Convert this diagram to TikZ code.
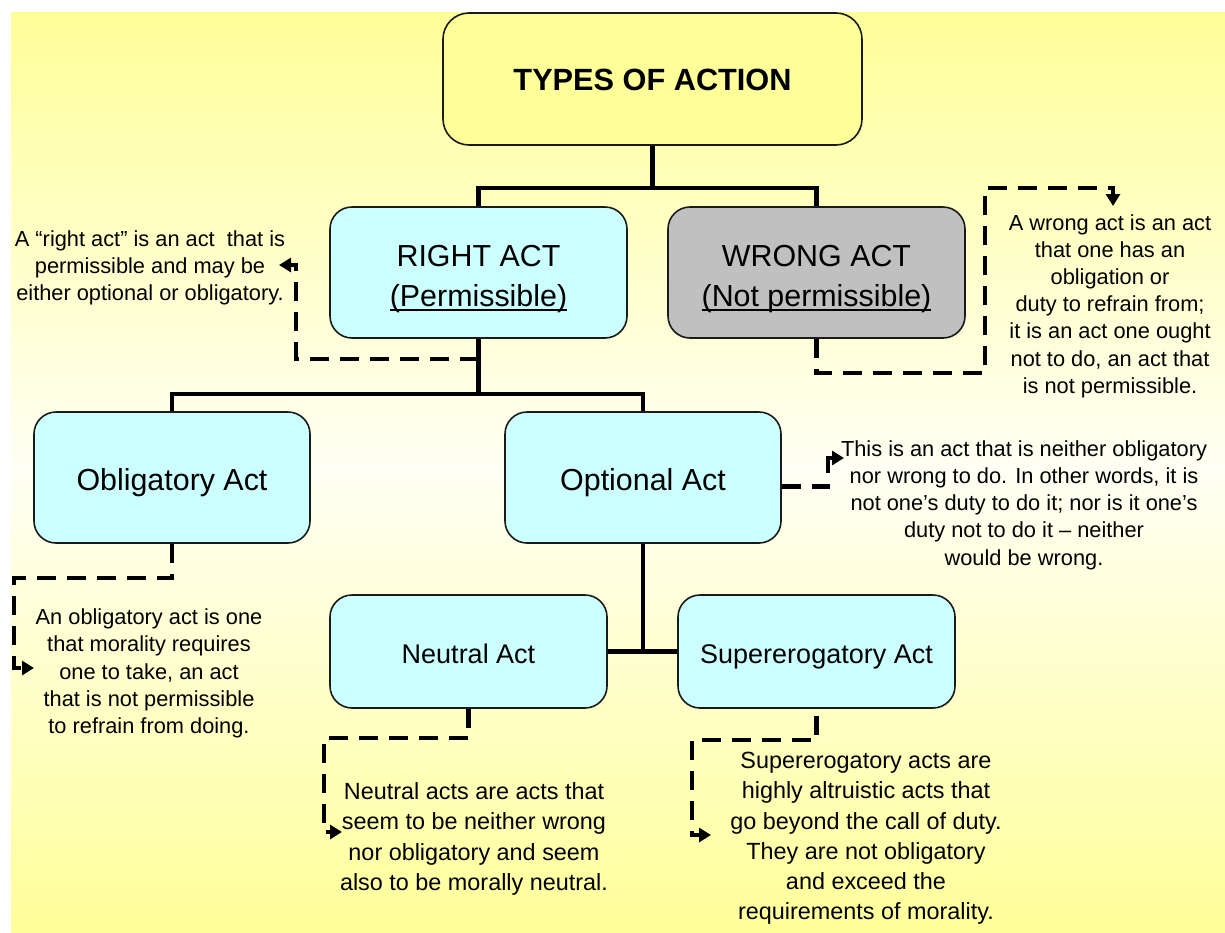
\documentclass[tikz,border=0pt]{standalone}
\usepackage{fontspec}
\setmainfont{Liberation Sans}
\usetikzlibrary{arrows.meta,calc}

\definecolor{bgyellow}{HTML}{FFFF99}
\definecolor{bgpale}{HTML}{FFFFF4}
\definecolor{boxcyan}{HTML}{CCFFFF}
\definecolor{boxgray}{HTML}{C0C0C0}
\definecolor{boxedge}{HTML}{1A1A1A}

% underline drawn as a rule, scaled for large text
\newcommand\ulbox[1]{\setbox0\hbox{#1}\rlap{\rule[-4.5pt]{\wd0}{2.2pt}}\box0}

\tikzset{
  actbox/.style={draw=boxedge, line width=1.6pt, rounded corners=22pt,
    fill=boxcyan, inner sep=0pt},
  boxlabel/.style={align=center, inner sep=0pt},
  bigfont/.style={font=\fontsize{30.4}{40}\selectfont},
  midfont/.style={font=\fontsize{27}{32}\selectfont},
  notetext/.style={align=center, inner sep=0pt, font=\fontsize{21.8}{27.2}\selectfont},
  notetextb/.style={align=center, inner sep=0pt, font=\fontsize{23.4}{30.2}\selectfont},
  tree/.style={line width=4.6pt},
  dashlink/.style={line width=4.6pt, dash pattern=on 19pt off 11pt,
    -{Triangle[length=12pt,width=14pt]}},
}

\begin{document}
\begin{tikzpicture}[x=1pt,y=-1pt]
\useasboundingbox (0,0) rectangle (1225,932);

% background: yellow fading to pale and back
\shade[top color=bgyellow, bottom color=bgpale] (11,12) rectangle (1225,470);
\shade[top color=bgpale, bottom color=bgyellow] (11,470) rectangle (1225,932);

% boxes
\node[actbox, fill=bgyellow, rounded corners=26pt, minimum width=419pt, minimum height=132pt] (title) at (652.5,79) {};
\node[actbox, minimum width=297pt, minimum height=131pt] (right) at (478.5,272.5) {};
\node[actbox, fill=boxgray, minimum width=297pt, minimum height=131pt] (wrong) at (816.5,272.5) {};
\node[actbox, minimum width=276pt, minimum height=131pt] (oblig) at (172,477.5) {};
\node[actbox, minimum width=276pt, minimum height=131pt] (optional) at (643,477.5) {};
\node[actbox, minimum width=277pt, minimum height=113pt] (neutral) at (468.5,651.5) {};
\node[actbox, minimum width=277pt, minimum height=113pt] (super) at (816.5,651.5) {};

% box captions
\node[boxlabel, font=\fontsize{30.7}{36}\selectfont\bfseries, yshift=-1pt] (title-t) at (title) {TYPES OF ACTION};
\node[boxlabel, bigfont, yshift=-6.5pt] (right-t) at (right) {RIGHT ACT\\\ulbox{(Permissible)}};
\node[boxlabel, bigfont, yshift=-6.5pt] (wrong-t) at (wrong) {WRONG ACT\\\ulbox{(Not permissible)}};
\node[boxlabel, bigfont, yshift=-5pt] (oblig-t) at (oblig) {Obligatory Act};
\node[boxlabel, bigfont, yshift=-5pt] (optional-t) at (optional) {Optional Act};
\node[boxlabel, midfont, yshift=-2pt] (neutral-t) at (neutral) {Neutral Act};
\node[boxlabel, midfont, yshift=-5pt] (super-t) at (super) {Supererogatory Act};

% tree connectors
\coordinate (bus1) at (652.5,188);
\coordinate (bus2) at (478.5,394);
\draw[tree] (title.south) -- (bus1);
\draw[tree] (right.north) |- (bus1) -| (wrong.north);
\draw[tree] (right.south) -- (bus2);
\draw[tree] (oblig.north) |- (bus2) -| (optional.north);
\draw[tree] (optional.south) -- (optional.south |- neutral.east);
\draw[tree] (neutral.east) -- (super.west);

% explanatory notes
\node[notetext] (rnote) at (150,268)
  {A “right act” is an act \ that is\\permissible and may be\\either optional or obligatory.};
\node[notetext] (wnote) at (1110,306)
  {A wrong act is an act\\that one has an\\obligation or\\duty to refrain from;\\it is an act one ought\\not to do, an act that\\is not permissible.};
\node[notetext] (onote) at (1024,505)
  {This is an act that is neither obligatory\\nor wrong to do. In other words, it is\\not one’s duty to do it; nor is it one’s\\duty not to do it – neither\\would be wrong.};
\node[notetext] (bnote) at (149,673.5)
  {An obligatory act is one\\that morality requires\\one to take, an act\\that is not permissible\\to refrain from doing.};
\node[notetextb] (nnote) at (474,839)
  {Neutral acts are acts that\\seem to be neither wrong\\nor obligatory and seem\\also to be morally neutral.};
\node[notetextb] (snote) at (866,838.5)
  {Supererogatory acts are\\highly altruistic acts that\\go beyond the call of duty.\\They are not obligatory\\and exceed the\\requirements of morality.};

% dashed pointers to the notes
\coordinate (rtip) at (279,265);
\coordinate (wcorner) at (985,188);
\coordinate (wtip) at (1113,206);
\coordinate (otip) at (844,458);
\coordinate (btip) at (34,668);
\coordinate (ntip) at (342,832);
\coordinate (stip) at (711,835);

\draw[dashlink] (right.south) ++(0,20) -| ($(rtip)+(17,0)$) -- (rtip);
\draw[dashlink] (wrong.south) -- ++(0,34) -| (wcorner) -| (wtip);
\draw[dashlink] (optional.east) ++(0,9) -| ($(otip)+(-16,0)$) -- (otip);
\draw[dashlink] (oblig.south) -- ++(0,34) -| ($(btip)+(-20,0)$) -- (btip);
\draw[dashlink] (neutral.south) -- ++(0,29) -| ($(ntip)+(-18,0)$) -- (ntip);
\draw[dashlink] (super.south) ++(0,7) -- ++(0,24) -| ($(stip)+(-19,0)$) -- (stip);

\end{tikzpicture}
\end{document}
